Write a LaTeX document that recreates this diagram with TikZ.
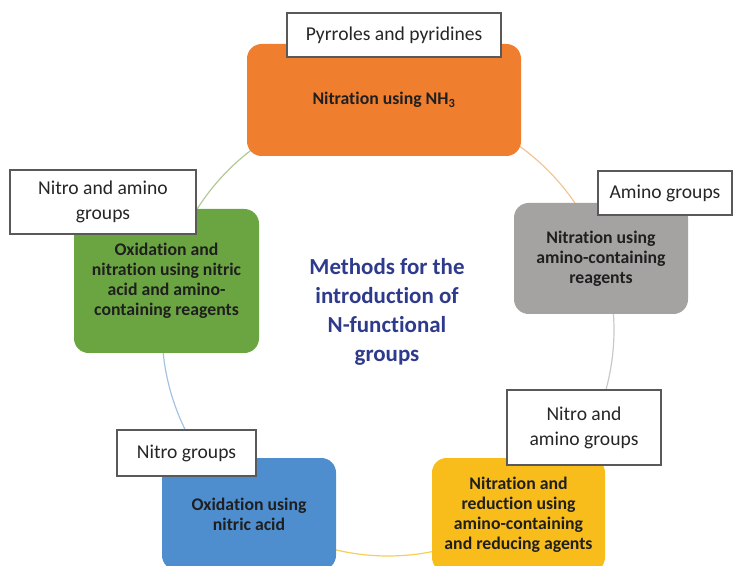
\documentclass[tikz,border=0pt]{standalone}
\usepackage{fontspec}
\setmainfont{Carlito}[Ligatures=NoCommon]
\definecolor{corange}{HTML}{F07E2F}
\definecolor{cgray}{HTML}{A5A3A2}
\definecolor{cyellow}{HTML}{F8BD1B}
\definecolor{cblue}{HTML}{4E8ECF}
\definecolor{cgreen}{HTML}{6BA541}
\definecolor{ctitle}{HTML}{2E3A8C}
\definecolor{arcO}{HTML}{F4C594}
\definecolor{arcG}{HTML}{C9C9C9}
\definecolor{arcY}{HTML}{F6CF55}
\definecolor{arcB}{HTML}{A3C3E2}
\definecolor{arcGr}{HTML}{B2C994}
\begin{document}
\begin{tikzpicture}[x=0.75pt,y=-0.75pt,
  box/.style={rounded corners=11pt, draw=none, align=center, font=\bfseries\fontsize{13.3}{15}\selectfont, text=black!88, inner sep=0pt},
  lab/.style={draw=black!65, line width=0.8pt, fill=white, align=center, font=\fontsize{14.7}{18.75}\selectfont, text=black!85, inner sep=0pt},
  ring/.style={line width=0.9pt}]
\useasboundingbox (0,0) rectangle (735,566);
\clip (0,0) rectangle (735,566);
\coordinate (c) at (388,330);
% ring arcs
\draw[ring, draw=arcO]  plot[domain=-91:-18, samples=50] ({388+226*cos(\x)},{330+226*sin(\x)});
\draw[ring, draw=arcG]  plot[domain=-18:55, samples=50] ({388+226*cos(\x)},{330+226*sin(\x)});
\draw[ring, draw=arcY]  plot[domain=55:127, samples=50] ({388+226*cos(\x)},{330+226*sin(\x)});
\draw[ring, draw=arcB]  plot[domain=127:192, samples=50] ({388+226*cos(\x)},{330+226*sin(\x)});
\draw[ring, draw=arcGr] plot[domain=192:269, samples=50] ({388+226*cos(\x)},{330+226*sin(\x)});
% boxes
\node[box, fill=corange, minimum width=205.5pt, minimum height=84pt] (o) at (384,100) {Nitration using NH\textsubscript{3}};
\node[box, fill=cgray, minimum width=130.5pt, minimum height=83.25pt] (g) at (601,258.5) {Nitration using\\amino-containing\\reagents};
\node[box, fill=cyellow, minimum width=129.75pt, minimum height=85.5pt] (y) at (518.5,515) {Nitration and\\reduction using\\amino-containing\\and reducing agents};
\node[box, fill=cblue, minimum width=130.5pt, minimum height=84pt] (b) at (249,514) {Oxidation using\\nitric acid};
\node[box, fill=cgreen, minimum width=138.75pt, minimum height=108pt] (gr) at (166.5,281) {Oxidation and\\nitration using nitric\\acid and amino-\\containing reagents};
% labels
\node[lab, minimum width=160.5pt, minimum height=33pt] (lo) at (394,35) {Pyrroles and pyridines};
\node[lab, minimum width=100.5pt, minimum height=33pt] (lg) at (665,193) {Amino groups};
\node[lab, minimum width=115.5pt, minimum height=56.25pt] (ly) at (584,427.5) {Nitro and\\amino groups};
\node[lab, minimum width=104.25pt, minimum height=34.5pt] (lb) at (186.5,453) {Nitro groups};
\node[lab, minimum width=139.5pt, minimum height=48pt] (lgr) at (103,202) {Nitro and amino\\groups};
% title
\node[align=center, text=ctitle, font=\bfseries\fontsize{17.2}{21.75}\selectfont] (t) at (387,312) {Methods for the\\introduction of\\N-functional\\groups};
\end{tikzpicture}
\end{document}
